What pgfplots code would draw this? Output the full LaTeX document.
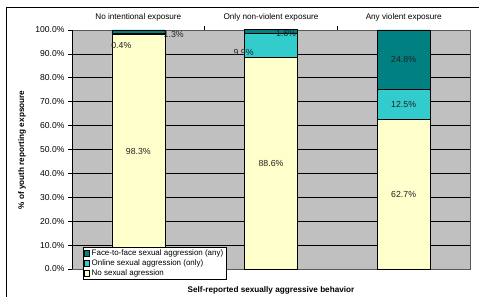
\documentclass[border=0pt]{standalone}
\usepackage{fontspec}
\setmainfont{Liberation Sans}
\usepackage{pgfplots}
\pgfplotsset{compat=1.18}
\definecolor{teal1}{HTML}{008080}
\definecolor{turq}{HTML}{33CCCC}
\definecolor{lyel}{HTML}{FFFFCC}
\definecolor{plotgray}{HTML}{C0C0C0}
\definecolor{lbltext}{HTML}{222222}
\newcommand{\lblfont}{\fontsize{8.8}{10}\selectfont}
\newcommand{\catfont}{\fontsize{8.2}{10}\selectfont}
\newcommand{\ttlfont}{\fontsize{8.2}{10}\selectfont\bfseries}
\tikzset{
  vlbl/.style={font=\lblfont, text=lbltext, inner sep=0pt},
  clbl/.style={font=\catfont, inner sep=0pt},
  tlbl/.style={font=\ttlfont, inner sep=0pt},
}
\begin{document}
\begin{tikzpicture}
\begin{axis}[
  at={(0,0)}, anchor=south west,
  scale only axis, width=398bp, height=239bp,
  ybar stacked, bar width=0.4,
  xmin=-0.5, xmax=2.5, ymin=0, ymax=100,
  xtick=\empty,
  ytick={0,10,...,100},
  ytick pos=left, tick align=outside,
  major tick length=4bp,
  tick style={black, line width=0.6pt},
  yticklabel={\pgfmathprintnumber[fixed,fixed zerofill,precision=1]{\tick}\%},
  /pgf/number format/assume math mode=true,
  tick label style={font=\fontsize{8.6}{10}\selectfont},
  ymajorgrids, grid style={black, line width=0.6pt},
  axis background/.style={fill=plotgray},
  axis line style={draw=gray!70!black, line width=0.6pt},
  clip=false,
  legend style={at={(axis cs:-0.417,9.2)}, anchor=north west,
    font=\fontsize{8}{9.5}\selectfont, draw=black, fill=white,
    inner sep=0.5pt, row sep=-1.2pt, cells={anchor=west}},
  legend image code/.code={\draw[#1, draw=black, line width=0.4pt] (0bp,-2.8bp) rectangle (5.6bp,2.8bp);},
]
\addlegendimage{fill=teal1}
\addlegendimage{fill=turq}
\addlegendimage{fill=lyel}
\addplot[fill=lyel, draw=black, line width=0.6pt, forget plot] coordinates {(0,98.3) (1,88.6) (2,62.7)};
\addplot[fill=turq, draw=black, line width=0.6pt, forget plot] coordinates {(0,0.4) (1,9.9) (2,12.5)};
\addplot[fill=teal1, draw=black, line width=0.6pt, forget plot] coordinates {(0,1.3) (1,1.6) (2,24.8)};
\legend{Face-to-face sexual aggression (any), Online sexual aggression (only), No sexual agression}
\draw[black, line width=0.6pt] (axis cs:-0.5,0) -- (axis cs:-0.5,100);
\draw[black, line width=0.6pt] (axis cs:0.5,100) -- (axis cs:0.5,101.5);
\draw[black, line width=0.6pt] (axis cs:1.5,100) -- (axis cs:1.5,101.5);
\coordinate (v1) at (axis cs:0,49.15);
\coordinate (v2) at (axis cs:1,44.3);
\coordinate (v3) at (axis cs:2,31.35);
\coordinate (v4) at (axis cs:2,68.95);
\coordinate (v5) at (axis cs:2,87.6);
\coordinate (v6) at (axis cs:-0.205,93.7);
\coordinate (v7) at (axis cs:0.19,98.3);
\coordinate (v8) at (axis cs:0.794,90.4);
\coordinate (v9) at (axis cs:1.113,98.7);
\coordinate (c1) at (axis cs:0,105.4);
\coordinate (c2) at (axis cs:1,105.4);
\coordinate (c3) at (axis cs:2,105.4);
\coordinate (xl) at (axis cs:1,-8.8);
\coordinate (yl) at (axis cs:-0.877,49.8);
\end{axis}
\node[vlbl] at (v1) {98.3\%};
\node[vlbl] at (v2) {88.6\%};
\node[vlbl] at (v3) {62.7\%};
\node[vlbl] at (v4) {12.5\%};
\node[vlbl] at (v5) {24.8\%};
\node[vlbl, anchor=west] at (v6) {0.4\%};
\node[vlbl, anchor=west] at (v7) {1.3\%};
\node[vlbl] at (v8) {9.9\%};
\node[vlbl] at (v9) {1.6\%};
\node[clbl] at (c1) {No intentional exposure};
\node[clbl] at (c2) {Only non-violent exposure};
\node[clbl] at (c3) {Any violent exposure};
\node[tlbl] at (xl) {Self-reported sexually aggressive behavior};
\node[tlbl, rotate=90] at (yl) {\% of youth reporting expsoure};
\draw[black, line width=0.8pt] (-66bp,-28bp) -- (-66bp,262bp) -- (407bp,262bp);
\pgfresetboundingbox
\path[use as bounding box] (-72bp,-28bp) rectangle (407bp,269bp);
\end{tikzpicture}
\end{document}
